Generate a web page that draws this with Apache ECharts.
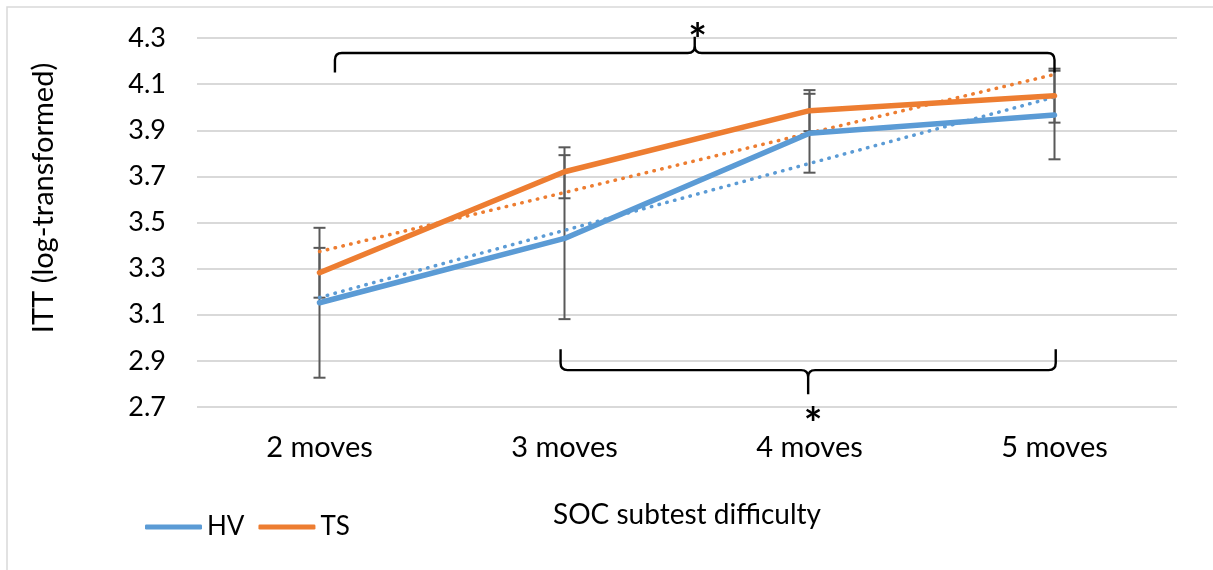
<!DOCTYPE html>
<html>
<head>
<meta charset="utf-8">
<script src="https://cdn.jsdelivr.net/npm/echarts@6/dist/echarts.min.js"></script>
<style>
html,body{margin:0;padding:0;background:#fff;}
#chart{width:1213px;height:570px;}
</style>
</head>
<body>
<div id="chart"></div>
<script>
// ---- data ----
var categories = ['2 moves', '3 moves', '4 moves', '5 moves'];
var hvValues = [3.152, 3.431, 3.887, 3.966];
var tsValues = [3.282, 3.720, 3.985, 4.050];
var hvTrend = [3.175, 3.466, 3.756, 4.044];
var tsTrend = [3.374, 3.630, 3.888, 4.142];
var hvErrLow  = [2.827, 3.081, 3.716, 3.774];
var hvErrHigh = [3.477, 3.792, 4.058, 4.158];
var tsErrLow  = [3.174, 3.605, 3.896, 3.933];
var tsErrHigh = [3.390, 3.826, 4.074, 4.167];
var yTicks = ['2.7', '2.9', '3.1', '3.3', '3.5', '3.7', '3.9', '4.1', '4.3'];
// significance brackets: [fromCat, toCat, barValue, endValue, tipValue]
var brackets = [
  [0.063, 3.0, 4.235, 4.150, 4.305],
  [0.984, 3.005, 2.860, 2.950, 2.755]
];

var FONT = 'Lato';
var TXT = '#000000';
var BLUE = '#5B9BD5';
var ORANGE = '#ED7D31';
var GRAY = '#595959';

var errData = [];
for (var i = 0; i < categories.length; i++) {
  errData.push([i, hvErrLow[i], hvErrHigh[i]]);
  errData.push([i, tsErrLow[i], tsErrHigh[i]]);
}

function errRender(params, api) {
  var x = api.value(0);
  var lo = api.coord([x, api.value(1)]);
  var hi = api.coord([x, api.value(2)]);
  var hw = 6;
  var st = { stroke: GRAY, lineWidth: 2 };
  return {
    type: 'group',
    children: [
      { type: 'line', shape: { x1: lo[0], y1: lo[1], x2: hi[0], y2: hi[1] }, style: st },
      { type: 'line', shape: { x1: lo[0] - hw, y1: lo[1], x2: lo[0] + hw, y2: lo[1] }, style: st },
      { type: 'line', shape: { x1: hi[0] - hw, y1: hi[1], x2: hi[0] + hw, y2: hi[1] }, style: st }
    ]
  };
}

function catX(api, f, v) {
  var p0 = api.coord([0, v]);
  var p1 = api.coord([1, v]);
  return p0[0] + f * (p1[0] - p0[0]);
}

function bracketRender(params, api) {
  var b = brackets[params.dataIndex];
  var xl = catX(api, b[0], b[2]);
  var xr = catX(api, b[1], b[2]);
  var xc = (xl + xr) / 2;
  var yb = api.coord([0, b[2]])[1];
  var ye = api.coord([0, b[3]])[1];
  var yt = api.coord([0, b[4]])[1];
  var s = ye > yb ? 1 : -1; // ends direction
  var r = 7;
  var path = 'M' + xl + ' ' + ye +
    ' L' + xl + ' ' + (yb + s * r) +
    ' Q' + xl + ' ' + yb + ' ' + (xl + r) + ' ' + yb +
    ' L' + (xc - r) + ' ' + yb +
    ' Q' + xc + ' ' + yb + ' ' + xc + ' ' + (yb - s * r) +
    ' L' + xc + ' ' + yt +
    ' M' + xc + ' ' + (yb - s * r) +
    ' Q' + xc + ' ' + yb + ' ' + (xc + r) + ' ' + yb +
    ' L' + (xr - r) + ' ' + yb +
    ' Q' + xr + ' ' + yb + ' ' + xr + ' ' + (yb + s * r) +
    ' L' + xr + ' ' + ye;
  var starY = s > 0 ? yt + 4 : yt + 30;
  var starX = s > 0 ? xc + 3 : xc + 5;
  return {
    type: 'group',
    children: [
      { type: 'path', shape: { pathData: path }, style: { stroke: '#000', lineWidth: 2.4, fill: null } },
      { type: 'text', style: { text: '*', x: starX, y: starY, align: 'center', verticalAlign: 'middle', font: 'bold 44px ' + FONT, fill: '#000' } }
    ]
  };
}

var chart = echarts.init(document.getElementById('chart'), null, { renderer: 'canvas' });
chart.setOption({
  backgroundColor: '#ffffff',
  animation: false,
  grid: { left: 197, right: 36, top: 38, bottom: 163, containLabel: false },
  legend: {
    data: [{ name: 'HV', icon: 'roundRect' }, { name: 'TS', icon: 'roundRect' }],
    left: 140, top: 509,
    itemWidth: 57, itemHeight: 5, itemGap: 14,
    textStyle: { fontFamily: FONT, fontSize: 26, color: TXT }
  },
  xAxis: {
    type: 'category',
    data: categories,
    boundaryGap: true,
    axisLine: { show: false },
    axisTick: { show: false },
    axisLabel: { fontFamily: FONT, fontSize: 29, color: TXT, margin: 26 },
    name: 'SOC subtest difficulty',
    nameLocation: 'middle',
    nameGap: 94,
    nameTextStyle: { fontFamily: FONT, fontSize: 28, color: TXT }
  },
  yAxis: {
    type: 'value',
    min: 2.7, max: 4.3, interval: 0.2,
    axisLine: { show: false },
    axisTick: { show: false },
    splitLine: { lineStyle: { color: '#d9d9d9', width: 2 } },
    axisLabel: {
      fontFamily: FONT, fontSize: 27, color: TXT, margin: 31,
      formatter: function (v) {
        var s = v.toFixed(1);
        return yTicks.indexOf(s) >= 0 ? s : '';
      }
    }
  },
  graphic: [
    { type: 'rect', shape: { x: 7, y: 7, width: 1300, height: 700 }, style: { fill: null, stroke: '#d9d9d9', lineWidth: 1.5 }, z: -1 },
    { type: 'text', x: 44, y: 198, rotation: Math.PI / 2, style: { text: 'ITT (log-transformed)', font: '29px ' + FONT, fill: TXT, align: 'center', verticalAlign: 'middle' } }
  ],
  series: [
    {
      name: 'errorbars', type: 'custom', renderItem: errRender, data: errData,
      encode: { x: 0, y: [1, 2] }, z: 1, silent: true
    },
    {
      name: 'HV trend', type: 'line', data: hvTrend, symbol: 'none', z: 2,
      lineStyle: { color: BLUE, width: 3.5, type: [0.5, 7.5], cap: 'round' }
    },
    {
      name: 'TS trend', type: 'line', data: tsTrend, symbol: 'none', z: 2,
      lineStyle: { color: ORANGE, width: 3.5, type: [0.5, 7.5], cap: 'round' }
    },
    {
      name: 'HV', type: 'line', data: hvValues, symbol: 'none', z: 3,
      itemStyle: { color: BLUE },
      lineStyle: { color: BLUE, width: 5.5, cap: 'round', join: 'round' }
    },
    {
      name: 'TS', type: 'line', data: tsValues, symbol: 'none', z: 3,
      itemStyle: { color: ORANGE },
      lineStyle: { color: ORANGE, width: 5.5, cap: 'round', join: 'round' }
    },
    {
      name: 'brackets', type: 'custom', renderItem: bracketRender,
      data: brackets.map(function (b) { return [0, b[2]]; }),
      encode: { x: 0, y: 1 }, z: 4, silent: true, clip: false
    }
  ]
});
</script>
</body>
</html>
